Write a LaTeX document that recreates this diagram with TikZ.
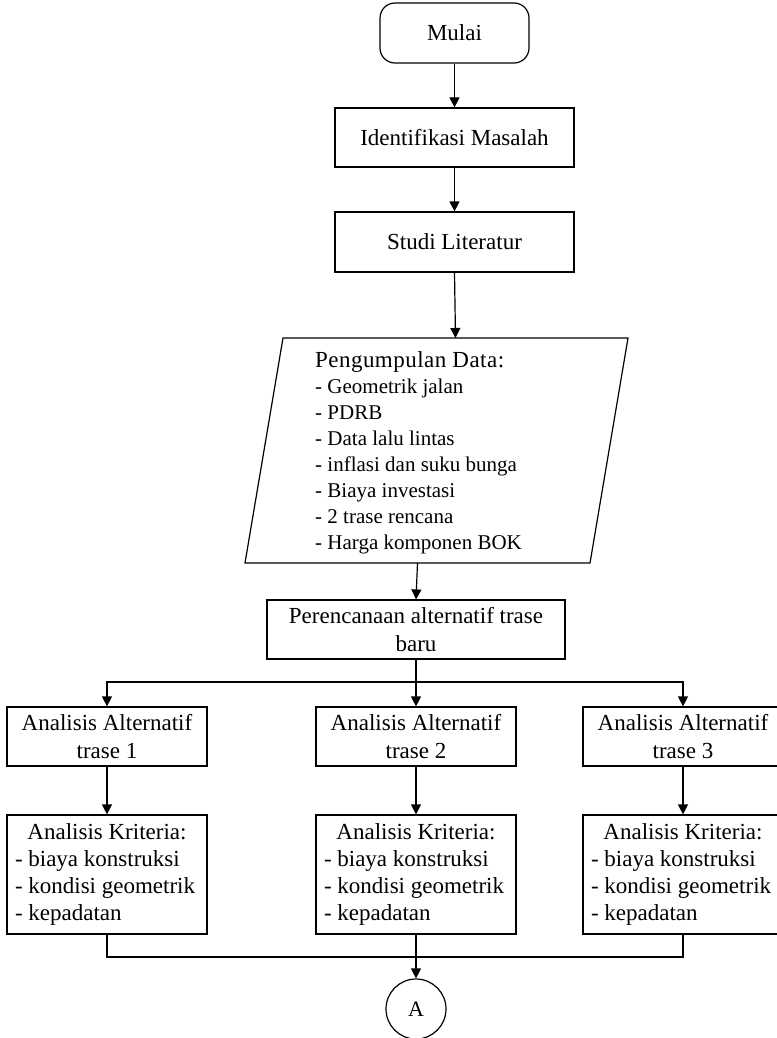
\documentclass[tikz,border=0pt]{standalone}
\usepackage{fontspec}
\setmainfont{Liberation Serif}
\usetikzlibrary{arrows.meta}
\begin{document}
\begin{tikzpicture}[x=1pt,y=-1pt,
  ln/.style={line width=1.2pt},
  box/.style={draw, line width=1.2pt, inner sep=0pt, align=center,
              font=\fontsize{23}{28}\selectfont},
  altbox/.style={box, minimum width=200pt, minimum height=59pt},
  kritbox/.style={draw, line width=1.2pt, inner xsep=8pt, inner ysep=0pt,
              text width=184pt, align=flush left, minimum height=119pt,
              font=\fontsize{23}{27}\selectfont},
  arr/.style={line width=1.2pt, -{Triangle[length=10pt,width=10pt]}}]
\useasboundingbox (0,0) rectangle (776,1038);

% top column
\node[box, rounded corners=15pt, minimum width=149pt, minimum height=60pt] (mulai) at (454.5,33) {Mulai};
\node[box, minimum width=239pt, minimum height=59pt] (idm) at (454.5,137.5) {Identifikasi Masalah};
\node[box, minimum width=239pt, minimum height=60pt] (studi) at (454.5,242) {Studi Literatur};

% data input (parallelogram)
\draw[ln] (283,338) -- (628,338) -- (590,563) -- (245,563) -- cycle;
\coordinate (pdtop) at (455.5,338);
\coordinate (pdbot) at (417.5,563);
\node[anchor=north west, inner sep=0pt, align=left, font=\fontsize{21}{26}\selectfont] (pd) at (315,351)
  {{\fontsize{23}{26}\selectfont\addfontfeatures{LetterSpace=2}Pengumpulan Data:}\\
   - Geometrik jalan\\
   - PDRB\\
   - Data lalu lintas\\
   - inflasi dan suku bunga\\
   - Biaya investasi\\
   - 2 trase rencana\\
   - Harga komponen BOK};

\node[box, minimum width=298pt, minimum height=59pt] (per) at (416,629.5) {Perencanaan alternatif trase\\baru};

% alternatives
\node[altbox] (alt1) at (107,736.5) {Analisis Alternatif\\trase 1};
\node[altbox] (alt2) at (416,736.5) {Analisis Alternatif\\trase 2};
\node[altbox] (alt3) at (683,736.5) {Analisis Alternatif\\trase 3};

% criteria
\node[kritbox] (kr1) at (107,874.5) {\hfill Analisis Kriteria:\hfill\null\\- biaya konstruksi\\- kondisi geometrik\\- kepadatan};
\node[kritbox] (kr2) at (416,874.5) {\hfill Analisis Kriteria:\hfill\null\\- biaya konstruksi\\- kondisi geometrik\\- kepadatan};
\node[kritbox] (kr3) at (683,874.5) {\hfill Analisis Kriteria:\hfill\null\\- biaya konstruksi\\- kondisi geometrik\\- kepadatan};

% connector A
\node[draw, circle, line width=1.2pt, minimum size=60pt, inner sep=0pt, font=\fontsize{22}{26}\selectfont] (A) at (416,1009) {A};

% connectors
\draw[arr] (mulai) -- (idm);
\draw[arr] (idm) -- (studi);
\draw[arr] (studi.south) -- (pdtop);
\draw[arr] (pdbot) -- (per.north);

\coordinate (br) at (416,682);
\draw[ln] (per.south) -- (br);
\draw[arr] (br) -| (alt1.north);
\draw[arr] (br) -- (alt2.north);
\draw[arr] (br) -| (alt3.north);

\draw[arr] (alt1) -- (kr1);
\draw[arr] (alt2) -- (kr2);
\draw[arr] (alt3) -- (kr3);

\coordinate (mg) at (416,957);
\draw[ln] (kr1.south) -- (kr1.south |- mg) -- (kr3.south |- mg) -- (kr3.south);
\draw[arr] (kr2.south) -- (A.north);
\end{tikzpicture}
\end{document}
